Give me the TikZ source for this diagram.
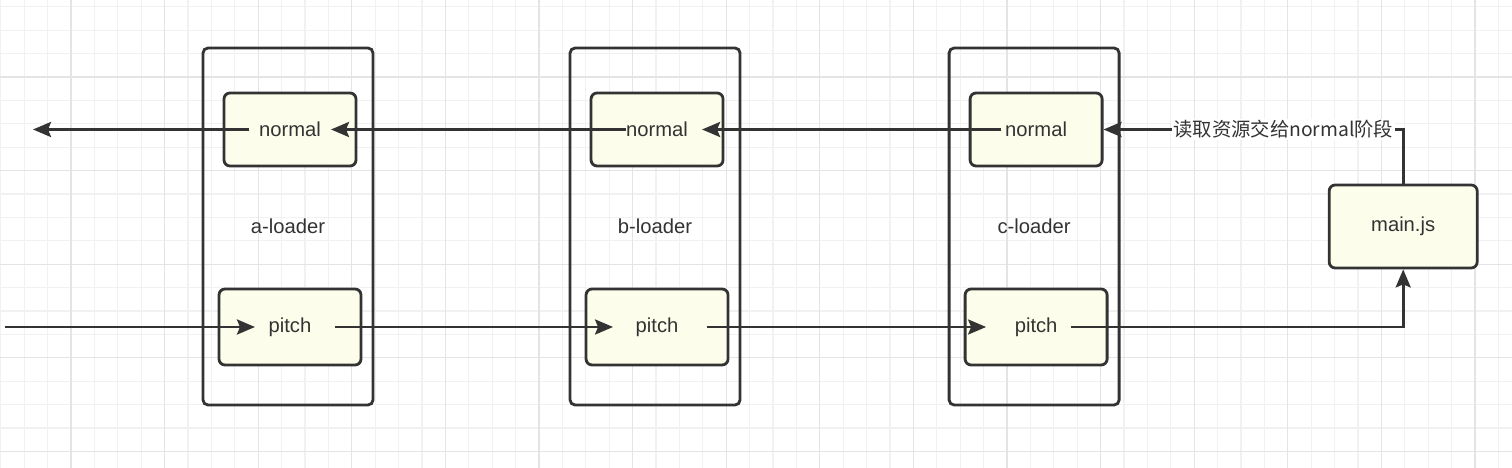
\documentclass[tikz,border=0pt]{standalone}
\usepackage{fontspec}
\setmainfont{Liberation Sans}
\newfontfamily\cjk{Noto Sans CJK SC}
\usetikzlibrary{arrows.meta,positioning}
\definecolor{ink}{HTML}{333333}
\definecolor{paper}{HTML}{FDFDEC}
\definecolor{gridminor}{HTML}{F1F1F1}
\definecolor{gridmajor}{HTML}{E4E4E4}

\begin{document}
\begin{tikzpicture}[
    font=\fontsize{11.5}{13}\selectfont,
    loader/.style={rectangle, draw=ink, line width=1.6pt, rounded corners=1mm, minimum width=3.4cm, minimum height=7.14cm, text=ink},
    phase/.style={rectangle, draw=ink, fill=paper, line width=1.6pt, rounded corners=1.2mm, minimum width=2.64cm, minimum height=1.46cm, text=ink},
    pitchbox/.style={phase, minimum width=2.84cm, minimum height=1.52cm},
    arr/.style={-{Stealth[length=3.6mm,width=3mm,inset=0.6mm]}, draw=ink, line width=1.6pt}
]
% page with a light grid behind the diagram
\useasboundingbox (0,0) rectangle (30.24,-9.36);
\fill[white] (0,0) rectangle (30.24,-9.36);
\foreach \i in {0,...,64} \draw[gridminor, line width=0.6pt] (0.016+0.468*\i,0) -- ++(0,-9.36);
\foreach \j in {0,...,19} \draw[gridminor, line width=0.6pt] (0,-0.136-0.468*\j) -- ++(30.24,0);
\foreach \i in {3,7,...,63} \draw[gridmajor, line width=0.6pt] (0.016+0.468*\i,0) -- ++(0,-9.36);
\foreach \j in {3,7,...,19} \draw[gridmajor, line width=0.6pt] (0,-0.136-0.468*\j) -- ++(30.24,0);

% the three loaders and main.js
\node[loader] (aL) at (5.76,-4.53) {a-loader};
\node[loader, right=3.885cm of aL] (bL) {b-loader};
\node[loader, right=4.125cm of bL] (cL) {c-loader};
\node[phase, minimum width=2.96cm, minimum height=1.66cm, right=4.145cm of cL] (mainjs) {main.js};

% normal and pitch phases inside each loader
\node[phase, below=0.9cm of aL.north, xshift=0.04cm] (aN) {normal};
\node[pitchbox, above=0.8cm of aL.south, xshift=0.04cm] (aP) {pitch};
\node[phase, below=0.9cm of bL.north, xshift=0.04cm] (bN) {normal};
\node[pitchbox, above=0.8cm of bL.south, xshift=0.04cm] (bP) {pitch};
\node[phase, below=0.9cm of cL.north, xshift=0.04cm] (cN) {normal};
\node[pitchbox, above=0.8cm of cL.south, xshift=0.04cm] (cP) {pitch};

\coordinate (outL) at ([xshift=-5.14cm]aN.center);
\coordinate (inL) at ([xshift=-5.7cm]aP.center);

% normal phase runs right to left
\draw[arr] ([xshift=-0.82cm]aN.center) -- (outL);
\draw[arr] ([xshift=-0.62cm]bN.center) -- ([xshift=0.82cm]aN.center);
\draw[arr] ([xshift=-0.7cm]cN.center) -- ([xshift=0.9cm]bN.center);
\draw[arr] (mainjs.north) |- (cN.east)
    node[pos=0.7, fill=white, inner sep=1pt, text=ink, font=\fontsize{11}{13}\selectfont] {\cjk 读取资源交给normal阶段};

% pitch phase runs left to right
\draw[arr] (inL) -- ([xshift=-0.7cm]aP.center);
\draw[arr] ([xshift=0.9cm]aP.center) -- ([xshift=-0.88cm]bP.center);
\draw[arr] ([xshift=1.0cm]bP.center) -- ([xshift=-1.0cm]cP.center);
\draw[arr] ([xshift=0.7cm]cP.center) -| (mainjs.south);
\end{tikzpicture}
\end{document}
